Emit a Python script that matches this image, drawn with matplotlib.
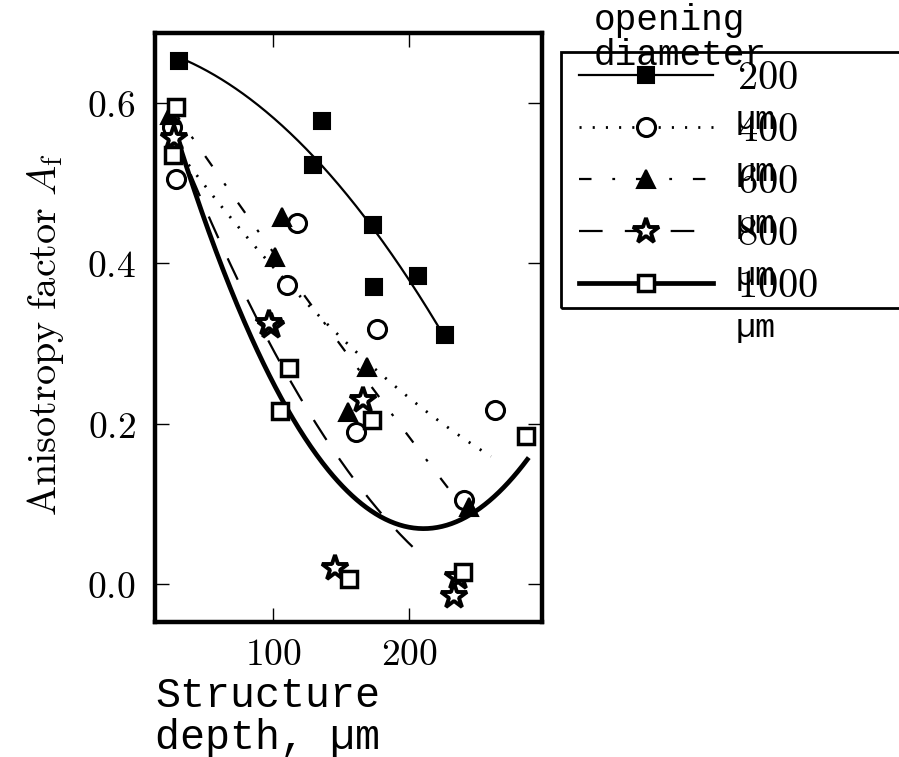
import numpy as np
import matplotlib
matplotlib.use("Agg")
import matplotlib.pyplot as plt
from matplotlib.patches import Rectangle
from matplotlib.ticker import FormatStrFormatter

plt.rcParams['mathtext.fontset'] = 'cm'
plt.rcParams['lines.scale_dashes'] = False

MONO = 'Liberation Mono'

# measured anisotropy factor vs structure depth, one set per opening diameter
diameters = ['200', '400', '600', '800', '1000']

depth_200 = [30.5, 135.7, 129.1, 173.4, 174.1, 206.7, 226.4]
af_200 = [0.653, 0.578, 0.523, 0.448, 0.371, 0.384, 0.311]

depth_400 = [25.6, 28.1, 117.2, 109.9, 176.4, 160.6, 263.3, 239.9]
af_400 = [0.571, 0.505, 0.450, 0.373, 0.318, 0.190, 0.217, 0.104]

depth_600 = [24.0, 106.4, 101.5, 168.5, 154.9, 243.6]
af_600 = [0.585, 0.458, 0.408, 0.271, 0.214, 0.096]

depth_800 = [26.8, 98.3, 96.5, 166.0, 145.1, 236.0, 232.5]
af_800 = [0.557, 0.322, 0.325, 0.230, 0.019, 0.008, -0.016]

depth_1000 = [28.1, 26.1, 111.3, 105.2, 172.2, 155.4, 239.4, 285.5]
af_1000 = [0.595, 0.535, 0.270, 0.216, 0.205, 0.006, 0.014, 0.184]

# depth range over which each quadratic fit is drawn
fit_from = [30.5, 26.0, 26.0, 26.5, 26.5]
fit_to = [226.4, 260.0, 243.6, 209.0, 286.7]

depths = [depth_200, depth_400, depth_600, depth_800, depth_1000]
afs = [af_200, af_400, af_600, af_800, af_1000]

markers = ['s', 'o', '^', '*', 's']
faces = ['black', 'white', 'black', 'white', 'white']
msizes = [12, 13, 13, 19, 12]
mwidths = [1.5, 2.2, 1.5, 2.8, 2.5]
lwidths = [1.6, 2.0, 1.6, 1.6, 3.4]
dashes = [None, (1.5, 8.0), (9, 15, 2, 15), (17, 16), None]

fig = plt.figure(figsize=(8.99, 7.57), dpi=100)
ax = fig.add_axes([155 / 899, 1 - 622 / 757, 387 / 899, 589 / 757])

handles = []
for i in range(5):
    x = np.array(depths[i])
    y = np.array(afs[i])
    coef = np.polyfit(x, y, 2)
    xs = np.linspace(fit_from[i], fit_to[i], 300)
    line, = ax.plot(xs, np.polyval(coef, xs), color='black', lw=lwidths[i], zorder=2)
    if dashes[i] is not None:
        line.set_dashes(dashes[i])
    ax.plot(x, y, ls='none', marker=markers[i], ms=msizes[i], mfc=faces[i],
            mec='black', mew=mwidths[i], zorder=3)
    h, = ax.plot([], [], color='black', lw=lwidths[i], marker=markers[i],
                 ms=msizes[i], mfc=faces[i], mec='black', mew=mwidths[i])
    if dashes[i] is not None:
        h.set_dashes(dashes[i])
    handles.append(h)

ax.set_xlim(13, 297.5)
ax.set_ylim(-0.048, 0.688)
ax.set_xticks([100, 200])
ax.set_yticks([0.0, 0.2, 0.4, 0.6])
ax.xaxis.set_major_formatter(FormatStrFormatter('$%d$'))
ax.yaxis.set_major_formatter(FormatStrFormatter('$%.1f$'))
ax.tick_params(direction='in', top=True, right=True, length=10, width=1,
               labelsize=27)
ax.tick_params(axis='y', pad=14)
ax.tick_params(axis='x', pad=11)
for sp in ax.spines.values():
    sp.set_linewidth(3.2)

ax.set_ylabel(r'$\mathrm{Anisotropy\ factor}\ A_\mathrm{f}$', fontsize=29,
              labelpad=15)
ax.yaxis.label.set_y(0.488)
ax.set_xlabel('Structure\ndepth, µm', loc='left', fontfamily=MONO,
              fontsize=30, linespacing=1.05, labelpad=2)

# legend entries, frame drawn separately so it can run off the right edge
leg = ax.legend(handles, ['$%s$' % d for d in diameters], loc='upper left',
                bbox_to_anchor=(561 / 899, 1 - 40 / 757),
                bbox_transform=fig.transFigure, frameon=False, numpoints=1,
                fontsize=29, handlelength=3.33, handletextpad=0.6,
                borderpad=0.45, labelspacing=0.30, borderaxespad=0)
for t in leg.get_texts():
    ax.annotate('µm', xy=(0, 0), xycoords=t, xytext=(-2, -31),
                textcoords='offset pixels', ha='left', va='baseline',
                fontfamily=MONO, fontsize=24, annotation_clip=False,
                zorder=10)

fig.patches.append(Rectangle((561 / 899, 1 - 308 / 757), 360 / 899, 256 / 757,
                             transform=fig.transFigure, fill=False,
                             edgecolor='black', lw=2))
fig.text(594 / 899, 1 - 65 / 757, 'opening\ndiameter', fontfamily=MONO,
         fontsize=26, linespacing=1.0, ha='left', va='baseline')

fig.savefig('out.png', dpi=100)
